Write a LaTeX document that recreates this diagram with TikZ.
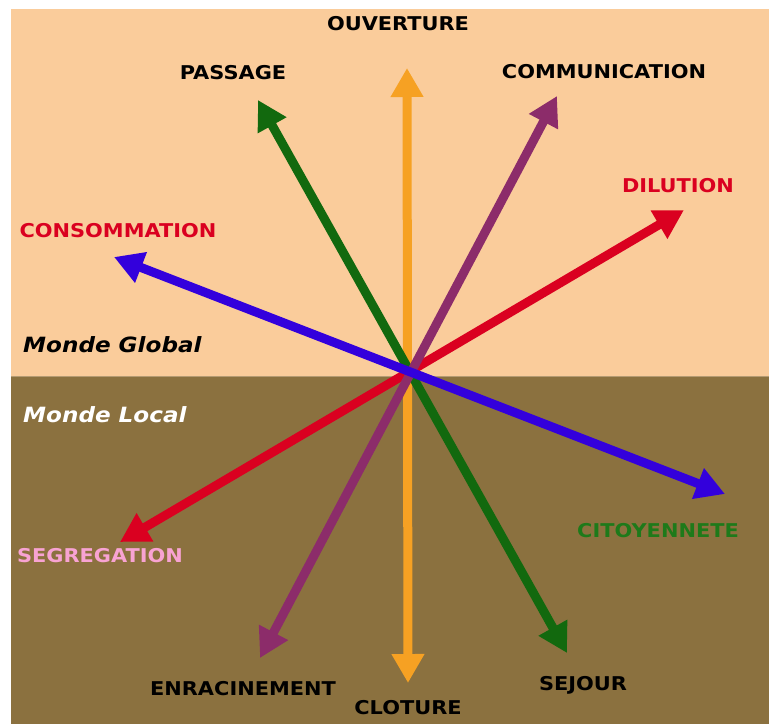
\documentclass[tikz,border=0pt]{standalone}
\usepackage{fontspec}
\setmainfont{DejaVu Sans}
\newfontfamily\lblfont[FakeStretch=1.1]{DejaVu Sans}
\usetikzlibrary{arrows.meta}
\definecolor{peach}{HTML}{FACC9B}
\definecolor{earth}{HTML}{8B713F}
\definecolor{edgeline}{HTML}{B59B72}
\definecolor{aorange}{HTML}{F6A123}
\definecolor{agreen}{HTML}{12690E}
\definecolor{apurple}{HTML}{8C2C6A}
\definecolor{ared}{HTML}{DA0020}
\definecolor{ablue}{HTML}{3300DC}
\definecolor{tpink}{HTML}{F8A3D3}
\definecolor{tgreen}{HTML}{1E7A1A}
\tikzset{
  axis/.style={line width=9pt, {Triangle[length=29pt,width=31pt]}-{Triangle[length=29pt,width=31pt]}},
  lbl/.style={font=\lblfont\fontsize{19}{22}\selectfont\bfseries, inner sep=0pt},
  world/.style={font=\lblfont\fontsize{21}{24}\selectfont\bfseries\itshape, inner sep=0pt, anchor=west}
}
\begin{document}
\begin{tikzpicture}[x=1pt,y=-1pt]
\useasboundingbox (0,0) rectangle (769,724);
\fill[white] (0,0) rectangle (769,724);
\fill[peach] (11,9) rectangle (769,376);
\fill[earth] (11,376) rectangle (769,724);
\draw[edgeline, line width=1pt] (11,376) -- (769,376);
% arrow endpoints
\coordinate (oT) at (407,68);
\coordinate (oB) at (408,683);
\coordinate (gT) at (258,100);
\coordinate (gB) at (567,653);
\coordinate (pT) at (557,96);
\coordinate (pB) at (260,658);
\coordinate (rT) at (684,210);
\coordinate (rB) at (120,542);
\coordinate (bL) at (114,257);
\coordinate (bR) at (725,494);
\draw[axis, aorange] (oB) -- (oT);
\draw[axis, ared] (rB) -- (rT);
\draw[axis, agreen] (gB) -- (gT);
\draw[axis, apurple] (pB) -- (pT);
\draw[axis, ablue] (bL) -- (bR);
% labels
\node[lbl] (ouv) at (398,24) {OUVERTURE};
\node[lbl] (pas) at (233,73) {PASSAGE};
\node[lbl] (com) at (604,72) {COMMUNICATION};
\node[lbl, text=ared] (dil) at (678,186) {DILUTION};
\node[lbl, text=ared] (cons) at (118,231) {CONSOMMATION};
\node[world] (mg) at (23,345) {Monde Global};
\node[world, text=white] (ml) at (23,415) {Monde Local};
\node[lbl, text=tpink] (seg) at (100,556) {SEGREGATION};
\node[lbl, text=tgreen] (cit) at (658,531) {CITOYENNETE};
\node[lbl] (enr) at (243,689) {ENRACINEMENT};
\node[lbl] (sej) at (583,685) {SEJOUR};
\node[lbl] (clo) at (408,708) {CLOTURE};
\end{tikzpicture}
\end{document}
